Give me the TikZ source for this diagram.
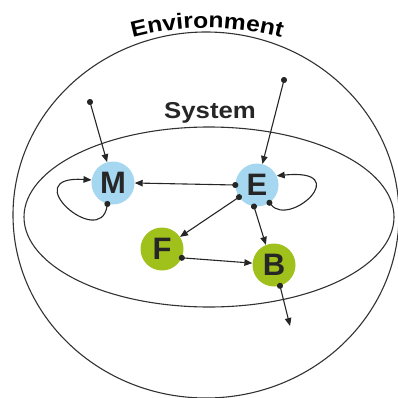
\documentclass[tikz,border=0pt]{standalone}
\usepackage{fontspec}
\setmainfont{Liberation Sans}
\newfontfamily\widefont[FakeStretch=1.12]{Liberation Sans}
\usetikzlibrary{arrows.meta,decorations.text}
\definecolor{nodeblue}{RGB}{166,215,240}
\definecolor{nodegreen}{RGB}{160,192,28}
\definecolor{linegray}{RGB}{50,50,50}
\newcommand{\envfont}{\widefont\bfseries\fontsize{22}{22}\selectfont}

\begin{document}
\begin{tikzpicture}[
    x=1pt, y=-1pt,
    actor/.style={circle, minimum size=43pt, inner sep=0pt, font=\bfseries\fontsize{31}{31}\selectfont, text=black!85},
    bluenode/.style={actor, fill=nodeblue},
    greennode/.style={actor, fill=nodegreen},
    boundary/.style={draw=linegray, line width=1.1pt},
    title/.style={font=\widefont\bfseries\fontsize{23}{23}\selectfont, text=black!85},
    arrow/.style={line width=1.1pt, draw=black!85, shorten <=-3pt, {Circle[length=6pt]}-{Triangle[length=8pt,width=6.5pt]}}
]
    \useasboundingbox (0,0) rectangle (398,398);

    % Draw boundaries
    \draw[boundary] (206,215) ellipse [x radius=193, y radius=183];
    \draw[boundary] (209,217) ellipse [x radius=185, y radius=90];
    \path[decorate, decoration={text along path, text align=center, text={|\envfont|Environment}}]
        (117.4,42.2) arc[start angle=-108, end angle=-72, radius=290];
    \node[title] (system) at (210,113) {System};

    % Draw nodes
    \node[bluenode] (M) at (113,183) {M};
    \node[bluenode] (E) at (257,185) {E};
    \node[greennode] (F) at (162,249) {F};
    \node[greennode] (B) at (274,265) {B};
    \coordinate (inM) at (90,102);
    \coordinate (inE) at (284,80);
    \coordinate (outB) at (290,326);

    % Draw connections
    \draw[arrow] (inM) -- (M);
    \draw[arrow] (inE) -- (E);
    \draw[arrow] (E.west) -- (M.east);
    \draw[arrow] (M.255) .. controls (100,250) and (15,175) .. (M.172);
    \draw[arrow] (E.305) .. controls (290,228) and (355,168) .. (E.25);
    \draw[arrow] (E) -- (F);
    \draw[arrow] (E.262) -- (B.112);
    \draw[arrow] (F.336) -- (B.175);
    \draw[arrow] (B.286) -- (outB);

\end{tikzpicture}
\end{document}
